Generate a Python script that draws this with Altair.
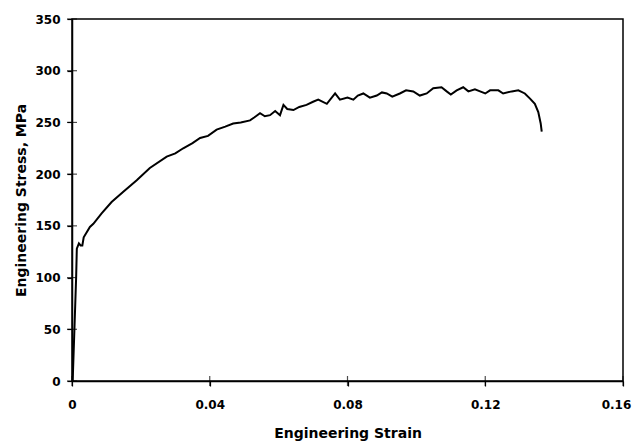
import altair as alt
import pandas as pd

strain = [0.0002, 0.0007, 0.0012, 0.0014, 0.0020, 0.0025, 0.0030, 0.0034, 0.0052,
          0.0062, 0.0086, 0.0115, 0.0149, 0.0188, 0.0226, 0.0275, 0.0300, 0.0323,
          0.0350, 0.0372, 0.0395, 0.0420, 0.0445, 0.0468, 0.0490, 0.0517, 0.0530,
          0.0546, 0.0560, 0.0575, 0.0590, 0.0604, 0.0614, 0.0625, 0.0643, 0.0660,
          0.0681, 0.0700, 0.0715, 0.0740, 0.0764, 0.0778, 0.0800, 0.0817, 0.0830,
          0.0846, 0.0865, 0.0885, 0.0900, 0.0914, 0.0930, 0.0952, 0.0970, 0.0991,
          0.1010, 0.1030, 0.1049, 0.1073, 0.1088, 0.1100, 0.1117, 0.1136, 0.1151,
          0.1170, 0.1185, 0.1200, 0.1214, 0.1238, 0.1252, 0.1277, 0.1296, 0.1315,
          0.1330, 0.1344, 0.1354, 0.1361, 0.1364]
stress = [0, 50, 100, 128, 133, 131, 131, 139, 149,
          152, 162, 173, 183, 194, 206, 217, 220, 225,
          230, 235, 237, 243, 246, 249, 250, 252, 255,
          259, 256, 257, 261, 257, 267, 263, 262, 265,
          267, 270, 272, 268, 278, 272, 274, 272, 276,
          278, 274, 276, 279, 278, 275, 278, 281, 280,
          276, 278, 283, 284, 280, 277, 281, 284, 280,
          282, 280, 278, 281, 281, 278, 280, 281, 278,
          273, 268, 260, 249, 241]

x_ticks = [0, 0.04, 0.08, 0.12, 0.16]
y_ticks = [0, 50, 100, 150, 200, 250, 300, 350]

df = pd.DataFrame({"i": list(range(len(strain))), "strain": strain, "stress": stress})
xt = pd.DataFrame({"v": x_ticks})
yt = pd.DataFrame({"v": y_ticks})

FONT = "DejaVu Sans"
xs = alt.Scale(domain=[0, 0.16], nice=False, zero=False)
ys = alt.Scale(domain=[0, 350], nice=False, zero=False)

line = alt.Chart(df).mark_line(color="black", strokeWidth=2).encode(
    x=alt.X("strain:Q", scale=xs, axis=alt.Axis(
        values=x_ticks, format=".2~f", title="Engineering Strain",
        tickSize=5, labelPadding=13, titlePadding=16, labelFlush=False,
        labelOffset={"condition": {"test": "datum.value > 0.15", "value": -7}, "value": 0})),
    y=alt.Y("stress:Q", scale=ys, axis=alt.Axis(
        values=y_ticks, title="Engineering Stress, MPa",
        tickSize=5, labelPadding=7, titlePadding=6, labelFlush=False)),
    order="i:Q",
)

xtick = alt.Chart(xt).mark_tick(orient="vertical", size=10, thickness=1.2, color="black").encode(
    x=alt.X("v:Q", scale=xs), y=alt.Y("z:Q", scale=ys)
).transform_calculate(z="0")

ytick = alt.Chart(yt).mark_tick(orient="horizontal", size=10, thickness=1.2, color="black").encode(
    y=alt.Y("v:Q", scale=ys), x=alt.X("z:Q", scale=xs)
).transform_calculate(z="0")

chart = alt.layer(line, xtick, ytick).properties(
    width=551, height=362,
    autosize=alt.AutoSizeParams(type="none"),
    padding={"left": 64, "top": 11, "right": 9, "bottom": 60},
    background="white",
).configure_view(
    stroke="black", strokeWidth=1.5
).configure_axis(
    domainColor="black", domainWidth=1.5, tickColor="black", tickWidth=1.2,
    grid=False, labelFont=FONT, labelFontSize=12, labelFontWeight="bold",
    labelColor="black", titleFont=FONT, titleFontSize=14, titleFontWeight="bold",
    titleColor="black",
)

chart.save("out.html", embed_options={"renderer": "svg", "actions": False})
